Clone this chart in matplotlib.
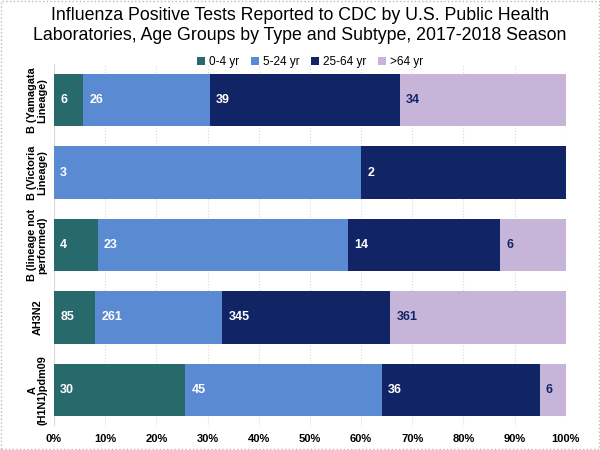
import matplotlib
matplotlib.use("Agg")
import matplotlib.pyplot as plt
import numpy as np

plt.rcParams['font.family'] = ['Liberation Sans', 'DejaVu Sans']

categories = ['A\n(H1N1)pdm09', 'AH3N2', 'B (lineage not\nperformed)',
              'B (Victoria\nLineage)', 'B (Yamagata\nLineage)']
age_groups = ['0-4 yr', '5-24 yr', '25-64 yr', '>64 yr']
age_0_4 = [30, 85, 4, 0, 6]
age_5_24 = [45, 261, 23, 3, 26]
age_25_64 = [36, 345, 14, 2, 39]
age_65 = [6, 361, 6, 0, 34]

colors = ['#286a6c', '#5a8bd2', '#102466', '#c7b5d9']
text_colors = ['white', 'white', 'white', '#102466']

series = np.array([age_0_4, age_5_24, age_25_64, age_65], dtype=float)
totals = series.sum(axis=0)
pct = series / totals * 100

fig = plt.figure(figsize=(6, 4.5), dpi=100)
ax = fig.add_axes([0.09, 0.053, 0.853, 0.805])

y = np.arange(len(categories))
left = np.zeros(len(categories))
for i in range(4):
    ax.barh(y, pct[i], left=left, height=0.72, color=colors[i],
            label=age_groups[i], zorder=2)
    for j in range(len(categories)):
        if series[i, j] > 0:
            ax.text(left[j] + 1.2, y[j], str(int(series[i, j])), ha='left', va='center',
                    color=text_colors[i], fontsize=9, fontweight='bold', zorder=3)
    left += pct[i]

ax.set_xlim(0, 100)
ax.set_ylim(-0.5, 4.5)
ax.set_xticks(np.arange(0, 101, 10))
ax.set_xticklabels([f'{v}%' for v in range(0, 101, 10)], fontsize=8, fontweight='bold')
ax.set_yticks(y)
ax.set_yticklabels(categories, rotation=90, va='center', ha='center',
                   fontsize=7.8, fontweight='bold', multialignment='center',
                   linespacing=1.0)
ax.tick_params(axis='y', length=0, pad=12)
ax.tick_params(axis='x', length=0, pad=6)
ax.grid(axis='x', color='#d9d9d9', linestyle=':', linewidth=0.8, zorder=0)
for s in ax.spines.values():
    s.set_visible(False)
ax.axvline(0, color='#d9d9d9', linewidth=0.8, zorder=1)

fig.suptitle('Influenza Positive Tests Reported to CDC by U.S. Public Health\n'
             'Laboratories, Age Groups by Type and Subtype, 2017-2018 Season',
             fontsize=12.8, y=0.985, linespacing=1.25)
ax.legend(loc='lower center', bbox_to_anchor=(0.5, 0.985), ncol=4, frameon=False,
          fontsize=8.5, handlelength=0.7, handleheight=0.7, handletextpad=0.3,
          columnspacing=1.0, borderaxespad=0.0, borderpad=0.1)

fig.patches.append(plt.Rectangle((0.002, 0.002), 0.996, 0.996, transform=fig.transFigure,
                                 fill=False, edgecolor='#bbbbbb', linestyle=':', linewidth=1))

fig.savefig('out.png', dpi=100)
